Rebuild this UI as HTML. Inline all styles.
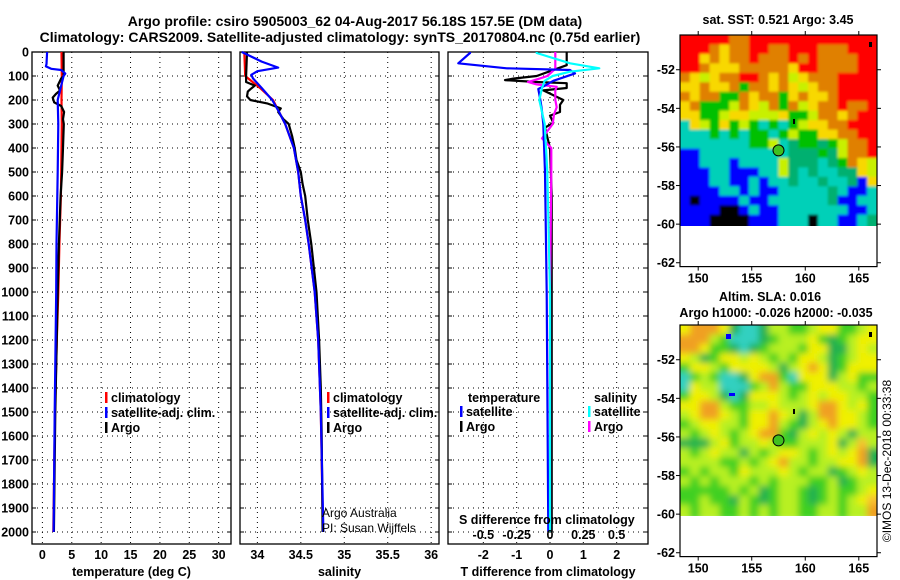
<!DOCTYPE html>
<html><head><meta charset="utf-8">
<style>
html,body{margin:0;padding:0;background:#fff;}
svg{display:block;font-family:"Liberation Sans",sans-serif;}
.b{font-weight:bold;font-size:12.5px;fill:#000;}
.t{font-weight:bold;font-size:14px;fill:#000;}
.thin{font-size:12px;fill:#000;}
</style></head>
<body>
<svg id="fig" width="900" height="580" viewBox="0 0 900 580" xmlns="http://www.w3.org/2000/svg">
<defs>
<filter id="blur" x="-5%" y="-5%" width="110%" height="110%"><feGaussianBlur stdDeviation="3.5"/></filter>
<filter id="blur2" x="-5%" y="-5%" width="110%" height="110%"><feGaussianBlur stdDeviation="1.2"/></filter>
<clipPath id="clipSla"><rect x="680" y="325" width="197" height="191"/></clipPath>
<clipPath id="clipSst"><rect x="680" y="35" width="197" height="191"/></clipPath>
</defs>
<rect width="900" height="580" fill="#fff"/>
<text class="t" x="355" y="26" text-anchor="middle">Argo profile: csiro 5905003_62 04-Aug-2017 56.18S 157.5E (DM data)</text>
<text class="t" x="340" y="42" text-anchor="middle">Climatology: CARS2009. Satellite-adjusted climatology: synTS_20170804.nc (0.75d earlier)</text>
</svg>
<script>
// ---------- data ----------
const depthTicks=[0,100,200,300,400,500,600,700,800,900,1000,1100,1200,1300,1400,1500,1600,1700,1800,1900,2000];
const tempTicks=[0,5,10,15,20,25,30];
const salTicks=[34,34.5,35,35.5,36];
const tdiffTicks=[-2,-1,0,1,2];
const sdiffTicks=[-0.5,-0.25,0,0.25,0.5];
const sdiffTickLabels=["-0.5","-0.25","0","0.25","0.5"];

const climTDepth=[0,100,200,300,400,500,600,800,1000,1200,1500,2000];
const climTVal=[3.25,3.3,3.25,3.3,3.25,3.2,3.15,2.9,2.7,2.45,2.15,1.85];
const argoTDepth=[0,100,110,140,160,175,190,210,225,250,280,300,400,500,600,800,1000,1500,2000];
const argoTVal=[3.6,3.6,3.2,2.6,3.0,2.3,1.75,2.0,3.2,3.7,3.5,3.65,3.5,3.35,3.1,2.8,2.6,2.2,1.95];
const satTDepth=[0,50,60,70,75,90,100,150,200,300,500,800,1000,1500,2000];
const satTVal=[0.8,0.7,0.6,1.5,3.2,3.9,3.6,3.1,2.6,2.7,2.6,2.4,2.35,2.1,1.9];

const climSDepth=[0,100,150,200,250,300,400,500,600,700,800,1000,1200,1500,2000];
const climSVal=[33.85,33.86,34.03,34.18,34.25,34.32,34.42,34.47,34.5,34.55,34.59,34.66,34.7,34.73,34.755];
const argoSDepth=[0,100,125,140,155,165,185,200,215,235,250,280,300,350,400,450,500,550,600,700,800,900,1000,1200,1400,1600,2000];
const argoSVal=[33.88,33.87,33.87,33.97,33.92,33.89,33.88,33.92,34.12,34.27,34.24,34.3,34.36,34.4,34.43,34.45,34.5,34.52,34.55,34.58,34.62,34.65,34.68,34.71,34.73,34.74,34.75];
const satSDepth=[0,40,65,80,95,110,150,200,250,300,400,500,600,700,800,1000,1200,1500,2000];
const satSVal=[33.82,34.05,34.24,34.0,33.93,33.95,34.05,34.17,34.25,34.32,34.42,34.47,34.5,34.55,34.59,34.66,34.7,34.73,34.76];

const argoTdDepth=[0,55,80,100,111,117,125,130,150,160,200,220,250,265,295,315,400,600,1000,1500,2000];
const argoTdVal=[0.5,0.5,0,-0.4,-1.1,-1.35,-0.4,0.5,0.5,-0.2,0.4,0.3,0.3,0,0.1,-0.15,0,0.05,0.05,0.05,0.05];
const satTdDepth=[0,4,47,68,75,89,106,120,140,154,192,236,300,500,1000,2000];
const satTdVal=[-2.4,-2.4,-2.75,-1.3,0.6,0.75,0.4,0.1,-0.15,-0.35,-0.3,-0.25,-0.2,-0.15,-0.1,-0.05];
const argoSdDepth=[0,70,100,110,125,135,145,160,200,230,260,300,360,400,500,1000,2000];
const argoSdVal=[0.04,0.04,-0.02,-0.075,-0.165,-0.1,0.05,0.04,0.04,0.05,0.03,0.02,-0.06,0.01,0.01,0.0,0.0];
const satSdDepth=[0,4,47,68,82,100,120,150,200,300,500,1000,2000];
const satSdVal=[-0.1,-0.1,0.15,0.37,0.15,0.02,-0.04,-0.06,-0.08,-0.04,-0.02,0.0,0.0];

const mapLonTicks=[150,155,160,165];
const mapLatTicks=[-52,-54,-56,-58,-60,-62];
const argoLon=157.5, argoLat=-56.18;
const sstRows=[
"RRRRROORRRRRRRRRRRRR","RRROYOORROORRROOORRR","RRYOYOOROOOROROOOORR","RROYYYOOOOOYRROOOORR",
"OYLYOORROYOLYOOORRRR","YYOYYOGOOYOYLYOORRRR","OYOOGGOYOOGYOYYORRRR","YOGGGLOYLOGOLYOOROOR",
"YYGGLYYLLLYGGLOOYORR","CYLGYGLGCGCGLYYOORRR","CCCGCGCGGCGLGGYYOORR","CCCCCCCGGLCgGGgGLOOR",
"BBCCCCCCCCCgggGgLOOR","BBCCCBCCCCLgggCgGOYL","BBBCCBBBCCLgCgCCggYL","BBBCCBBCBCCgCCgCCgBY",
"BBBBCCBCBBCCCCCgCBBC","BKBBBBCBBCCCCCCgBBCC","BBBBKKBCBBCCCCCCCBBC","BBBKKKKBBBCCCKCCBBCg"];
const slaRows=[
"YOOOYgCCgLLGGLYYGGLY","OOOLGCCCgGLLLYGgGLYY","OOYGGgCgGLLLGYYggLYL","YLgGYYLYLGLGYYLgGLYY",
"GYYLGYYYYLgLYOYgGYYY","CGLGCCgYOOGCYYYgLYGG","CYLLCCCGLOLGGYYYLLGL","GYYLgCgYYYLGLYLYYLLG",
"YYOOLGGLLYLLLYOOYLYG","LYOOYLGYYOYLgLOOYYLG","GLYYLLGYYOLGgLYOYYLG","LGLYLGLYOOGgLYLYLgLL",
"gggLYGLLYLGGLLLYgLoL","LGLYLLgLGLYYLGLYLYOg","LLLLGGLGLYOLLGLLYYOg","GLGLLGYLLLYLGLLgGLYL",
"LGLGLLLGLGLLLGGLgGLL","GGGGGLGLgGLLGgGLGGLY","GGLGGgLGgGLLGgGLGLYo","LGLLGGLGLGLLGGLLGLLO"];
const sstColors={R:"#ff0000",O:"#e08000",Y:"#f8d800",L:"#c8f000",G:"#00c000",g:"#00b070",C:"#00d0b8",B:"#0000ff",K:"#000000"};
const slaColors={O:"#f0a020",o:"#f8c030",Y:"#f0f000",L:"#b8f020",G:"#40d020",g:"#20b050",C:"#30d0c0",B:"#0000ff"};

// ---------- helpers ----------
const NS="http://www.w3.org/2000/svg";
const svg=document.getElementById('fig');
function mk(tag,attrs,parent){const e=document.createElementNS(NS,tag);for(const k in attrs)e.setAttribute(k,attrs[k]);(parent||svg).appendChild(e);return e;}
function txt(s,x,y,cls,anchor,parent){const e=mk('text',{x:x,y:y,class:cls,'text-anchor':anchor||'start'},parent);e.textContent=s;return e;}
const Y0=52, PY=0.24;
function yD(d){return Y0+d*PY;}
const PTOP=52, PBOT=544;

const panels=[
 {name:'temperature',x0:32,x1:231,v0:-1.77,v1:32.1,ticks:tempTicks,labels:tempTicks.map(String),title:'temperature (deg C)'},
 {name:'salinity',x0:240,x1:439,v0:33.8,v1:36.09,ticks:salTicks,labels:salTicks.map(String),title:'salinity'},
 {name:'difference',x0:448,x1:648,v0:-3.06,v1:2.94,ticks:tdiffTicks,labels:tdiffTicks.map(String),title:'T difference from climatology'}
];
function xs(p,v){return p.x0+(v-p.v0)/(p.v1-p.v0)*(p.x1-p.x0);}
function xsS(p,v){return xs(p,v*4);}

panels.forEach((p,i)=>{
  const g=mk('g',{});
  
  
  depthTicks.forEach(d=>{
    const l=mk('line',{x1:p.x0,x2:p.x1,y1:yD(d),y2:yD(d),stroke:'#000','stroke-width':1,'stroke-dasharray':'1,4'},g);
    
    
    mk('line',{x1:p.x0,x2:p.x0+4,y1:yD(d),y2:yD(d),stroke:'#000'},g);
    mk('line',{x1:p.x1-4,x2:p.x1,y1:yD(d),y2:yD(d),stroke:'#000'},g);
  });
  p.ticks.forEach((v,k)=>{
    const x=xs(p,v);
    const l=mk('line',{x1:x,x2:x,y1:PTOP,y2:PBOT,stroke:'#000','stroke-dasharray':'1,4'},g);
    
    
    const t=txt(p.labels[k],x,559,'b','middle',g);
    
    
  });
  const fr=mk('rect',{x:p.x0,y:PTOP,width:p.x1-p.x0,height:PBOT-PTOP,fill:'none',stroke:'#000','stroke-width':1.3},g);
  
  
  const at=txt(p.title,(p.x0+p.x1)/2,576,'b','middle',g);
  
  
});
depthTicks.forEach(d=>{
  const t=txt(String(d),29,yD(d)+4.5,'b','end');
  
  
});

function line(depths,vals,fx,color,name,w){
  const pts=depths.map((d,i)=>fx(vals[i]).toFixed(1)+','+yD(d).toFixed(1)).join(' ');
  const e=mk('polyline',{points:pts,fill:'none',stroke:color,'stroke-width':w||2.2,'stroke-linejoin':'round'});
  
  
  return e;
}
const P1=panels[0],P2=panels[1],P3=panels[2];
line(climTDepth,climTVal,v=>xs(P1,v),'#ff0000','temp-climatology-line');
line(argoTDepth,argoTVal,v=>xs(P1,v),'#000','temp-argo-line');
line(satTDepth,satTVal,v=>xs(P1,v),'#0000ff','temp-satellite-line');
line(climSDepth,climSVal,v=>xs(P2,v),'#ff0000','sal-climatology-line');
line(argoSDepth,argoSVal,v=>xs(P2,v),'#000','sal-argo-line');
line(satSDepth,satSVal,v=>xs(P2,v),'#0000ff','sal-satellite-line');
line(argoTdDepth,argoTdVal,v=>xs(P3,v),'#000','tdiff-argo-line');
line(argoSdDepth,argoSdVal,v=>xsS(P3,v),'#ff00ff','sdiff-argo-line');
line(satTdDepth,satTdVal,v=>xs(P3,v),'#0000ff','tdiff-satellite-line');
line(satSdDepth,satSdVal,v=>xsS(P3,v),'#00ffff','sdiff-satellite-line');

const sdt=txt('S difference from climatology',459,524,'b','start');


sdiffTicks.forEach((v,k)=>{
  const t=txt(sdiffTickLabels[k],xsS(P3,v),539,'b','middle');
  
  
});

function legEntry(x,y,color,label,name){
  const g=mk('g',{});
  
  
  mk('rect',{x:x,y:y-10,width:2.5,height:11,fill:color},g);
  txt(label,x+6,y,'b','start',g);
}
[[105,'#ff0000','climatology'],[105,'#0000ff','satellite-adj. clim.'],[105,'#000','Argo']].forEach((e,k)=>legEntry(e[0],402+k*15,e[1],e[2],'temp-legend-entry'));
[[327,'#ff0000','climatology'],[327,'#0000ff','satellite-adj. clim.'],[327,'#000','Argo']].forEach((e,k)=>legEntry(e[0],402+k*15,e[1],e[2],'sal-legend-entry'));
const lt=txt('temperature',468,402,'b');  
const ls=txt('salinity',594,402,'b');  
legEntry(460,416,'#0000ff','satellite','tdiff-legend-satellite');
legEntry(460,431,'#000','Argo','tdiff-legend-argo');
legEntry(588,416,'#00ffff','satellite','sdiff-legend-satellite');
legEntry(588,431,'#ff00ff','Argo','sdiff-legend-argo');
const a1=txt('Argo Australia',322,517,'thin');  
const a2=txt('PI: Susan Wijffels',322,532,'thin');  

// ---------- maps ----------
const MX0=680,MX1=877,LON0=148.3,LON1=166.7;
function mx(lon){return MX0+(lon-LON0)/(LON1-LON0)*(MX1-MX0);}
function drawMap(top,rows,colors,name,filt,clip){
  const ppd=19.3; const lat0=-50.2;
  const my=lat=>top+(lat0-lat)*ppd;
  const bottom=my(-62.2);
  const g=mk('g',{});
  
  
  const cg0=mk('g',{'clip-path':'url(#'+clip+')'},g);
  const cg=mk('g',{filter:'url(#'+filt+')'},cg0);
  const dTop=top, dBot=my(-60);
  const nr=rows.length, nc=rows[0].length;
  const cw=(MX1-MX0)/nc, ch=(dBot-dTop)/nr;
  rows.forEach((r,i)=>{for(let j=0;j<nc;j++){
    const ex0=j===0?-6:0, ex1=j===nc-1?6:0, ey0=i===0?-6:0, ey1=i===nr-1?6:0;
    const c=mk('rect',{x:(MX0+j*cw+ex0).toFixed(2),y:(dTop+i*ch+ey0).toFixed(2),width:(cw+0.6-ex0+ex1).toFixed(2),height:(ch+0.6-ey0+ey1).toFixed(2),fill:colors[r[j]]},cg);
    
    
  }});
  mk('rect',{x:MX0,y:top,width:MX1-MX0,height:bottom-top,fill:'none',stroke:'#000','stroke-width':1.2},g);
  mapLatTicks.forEach(l=>{
    const y=my(l);
    mk('line',{x1:MX0-4,x2:MX0,y1:y,y2:y,stroke:'#000'},g);
    mk('line',{x1:MX1,x2:MX1+4,y1:y,y2:y,stroke:'#000'},g);
    const t=txt(String(l),MX0-5,y+4.5,'b','end',g);
    
    
  });
  mapLonTicks.forEach(l=>{
    const x=mx(l);
    mk('line',{x1:x,x2:x,y1:top-4,y2:top,stroke:'#000'},g);
    mk('line',{x1:x,x2:x,y1:bottom,y2:bottom+4,stroke:'#000'},g);
    const t=txt(String(l),x,bottom+16,'b','middle',g);
    
    
  });
  mk('rect',{x:869,y:top+7,width:3,height:5,fill:'#000'},g);
  mk('rect',{x:793,y:top+84,width:2,height:5,fill:'#000'},g);
  const dot=mk('circle',{cx:mx(argoLon),cy:my(argoLat),r:5.5,fill:'#40c020',stroke:'#000','stroke-width':1},g);
  
  
  return g;
}
drawMap(35,sstRows,sstColors,'sst-map','blur2','clipSst');
const slaG=drawMap(325,slaRows,slaColors,'sla-map','blur','clipSla');
mk('rect',{x:726,y:334,width:5,height:5,fill:'#0000ff'},slaG);
mk('rect',{x:729,y:393,width:6,height:3,fill:'#0000ff'},slaG);

const m1=txt('sat. SST: 0.521 Argo: 3.45',778,24,'b','middle');  
const m2=txt('Altim. SLA: 0.016',770,301,'b','middle');  
const m3=txt('Argo h1000: -0.026 h2000: -0.035',776,317,'b','middle');  
const cr=txt('©IMOS 13-Dec-2018 00:33:38',0,0,'thin','middle');
cr.setAttribute('transform','translate(891,461) rotate(-90)');


</script>
</body></html>
